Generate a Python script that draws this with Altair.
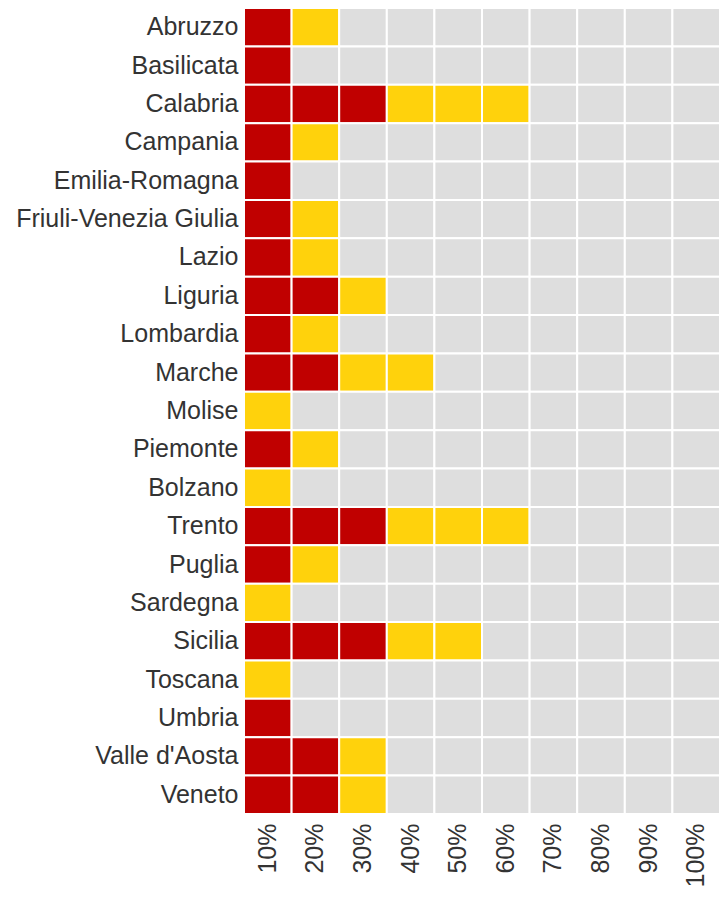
import altair as alt
import pandas as pd

regions = ["Abruzzo", "Basilicata", "Calabria", "Campania", "Emilia-Romagna",
           "Friuli-Venezia Giulia", "Lazio", "Liguria", "Lombardia", "Marche",
           "Molise", "Piemonte", "Bolzano", "Trento", "Puglia", "Sardegna",
           "Sicilia", "Toscana", "Umbria", "Valle d'Aosta", "Veneto"]
red_cells = [1, 1, 3, 1, 1, 1, 1, 2, 1, 2, 0, 1, 0, 3, 1, 0, 3, 0, 1, 2, 2]
yellow_cells = [1, 0, 3, 1, 0, 1, 1, 1, 1, 2, 1, 1, 1, 3, 1, 1, 2, 1, 0, 1, 1]
levels = ["10%", "20%", "30%", "40%", "50%", "60%", "70%", "80%", "90%", "100%"]

rows = []
for r, nr, ny in zip(regions, red_cells, yellow_cells):
    for i, lv in enumerate(levels):
        if i < nr:
            s = "red"
        elif i < nr + ny:
            s = "yellow"
        else:
            s = "none"
        rows.append({"region": r, "level": lv, "status": s})
df = pd.DataFrame(rows)

chart = alt.Chart(df).mark_rect(stroke="white", strokeWidth=2).encode(
    x=alt.X("level:O", sort=levels, title=None,
            axis=alt.Axis(labelAngle=-90, labelFontSize=25, labelColor="#333333",
                          labelFont="Liberation Sans", ticks=False, domain=False,
                          labelPadding=9, labelAlign="right", labelBaseline="middle")),
    y=alt.Y("region:O", sort=regions, title=None,
            axis=alt.Axis(labelFontSize=25, labelColor="#333333",
                          labelFont="Liberation Sans", ticks=False, domain=False,
                          labelPadding=6, labelLimit=400)),
    color=alt.Color("status:N",
                    scale=alt.Scale(domain=["red", "yellow", "none"],
                                    range=["#C00000", "#FFD20C", "#DEDEDE"]),
                    legend=None),
).properties(
    width=476, height=806,
    autosize=alt.AutoSizeParams(type="none"),
    padding={"left": 236, "top": 0, "right": 0, "bottom": 72}
).configure_view(stroke=None).configure_scale(bandPaddingInner=0, bandPaddingOuter=0)

chart.save("out.html", embed_options={"renderer": "svg", "actions": False})
